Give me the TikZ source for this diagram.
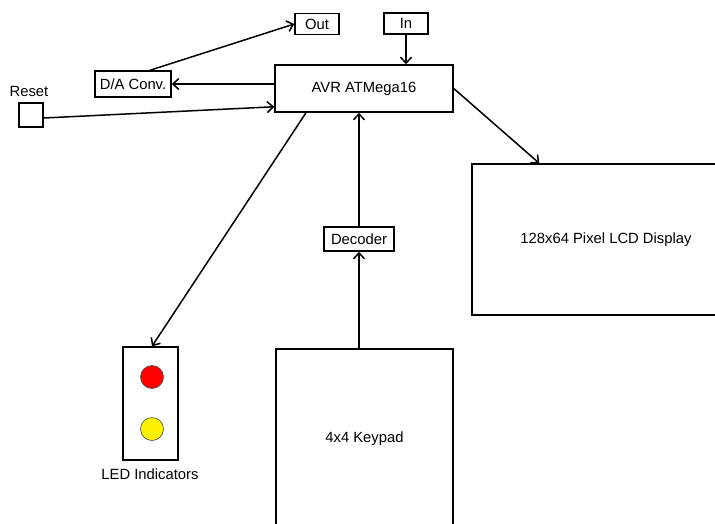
\documentclass[tikz,border=0pt]{standalone}
\usepackage{fontspec}
\setmainfont{Liberation Sans}
\usetikzlibrary{arrows.meta}
\begin{document}
\begin{tikzpicture}[x=1pt,y=-1pt,
  box/.style={draw,line width=1.5pt,rectangle,inner sep=1pt,font=\fontsize{14.8}{17}\selectfont},
  lbl/.style={inner sep=0pt,font=\fontsize{14.8}{17}\selectfont},
  arr/.style={line width=1.5pt,-{Straight Barb[length=6pt,width=11pt,line width=1.5pt]}},
  led/.style={draw=black!70,line width=0.6pt,circle,minimum size=23pt,inner sep=0pt}]
\useasboundingbox (0,0) rectangle (715,523);
\clip (0,0) rectangle (715,523);
\node[box,minimum width=44pt,minimum height=21pt] (out) at (317,24) {Out};
\node[box,minimum width=44pt,minimum height=21pt] (in) at (406,23.5) {In};
\node[box,minimum width=178pt,minimum height=47pt] (avr) at (364,88.5) {AVR ATMega16};
\node[box,minimum width=76pt,minimum height=26pt] (da) at (133,84) {D/A Conv.};
\node[box,minimum width=24pt,minimum height=24pt] (reset) at (31,115) {};
\node[lbl] (resetlbl) at (29,91) {Reset};
\node[box,minimum width=268pt,minimum height=151pt] (lcd) at (606,239.5) {128x64 Pixel LCD Display};
\node[box,minimum width=177pt,minimum height=180pt] (kp) at (364.5,439) {4x4 Keypad};
\node[box,minimum width=55pt,minimum height=113pt] (ledbox) at (150.5,403.5) {};
\node[led,fill=red] (red) at (152,377) {};
\node[led,fill=yellow] (yellow) at (152,429) {};
\node[lbl] (ledlbl) at (150,474) {LED Indicators};
\node[box,minimum width=70pt,minimum height=24pt] (dec) at (359,239) {Decoder};

\draw[arr] ([xshift=17pt]da.north) -- (out.west);
\draw[arr] (avr.west |- da.east) -- (da.east);
\draw[arr] ([yshift=-3pt]reset.east) -- ([yshift=6pt]avr.south west);
\draw[arr] (in.south) -- (avr.north -| in.south);
\draw[arr] (avr.east) -- ([xshift=68pt]lcd.north west);
\draw[arr] ([xshift=-58pt]avr.south) -- ([xshift=1.5pt]ledbox.north);
\draw[arr] (dec.north) -- (avr.south -| dec.north);
\draw[arr] (kp.north -| dec.south) -- (dec.south);
\end{tikzpicture}
\end{document}
